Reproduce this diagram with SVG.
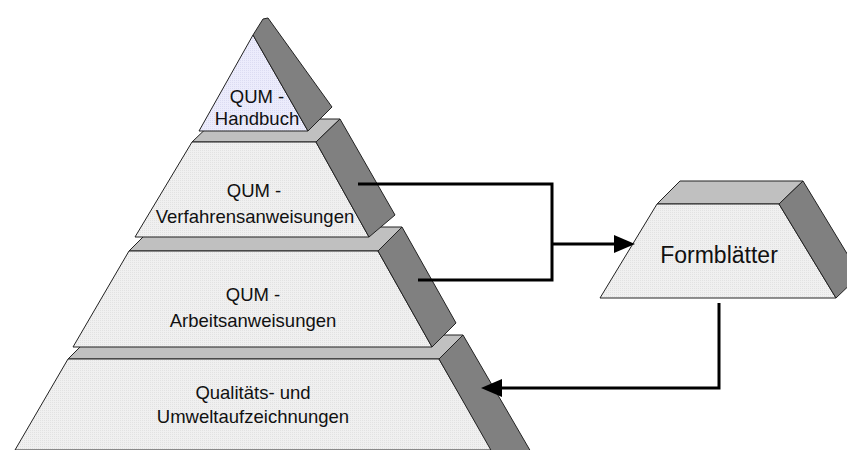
<svg xmlns="http://www.w3.org/2000/svg" width="847" height="450" viewBox="0 0 847 450">
<defs>
<pattern id="dots" width="2" height="2" patternUnits="userSpaceOnUse">
<rect width="2" height="2" fill="#f0f0f0"/>
<rect width="1" height="1" fill="#e2e2e2"/>
</pattern>
<pattern id="dotsL" width="2" height="2" patternUnits="userSpaceOnUse">
<rect width="2" height="2" fill="#ececfc"/>
<rect width="1" height="1" fill="#dcdcf2"/>
</pattern>
<marker id="arr" markerUnits="userSpaceOnUse" markerWidth="22" markerHeight="20" refX="11" refY="9" orient="auto">
<path d="M0,0 L21,9 L0,18 z" fill="#000"/>
</marker>
</defs>
<style>
.front{fill:url(#dots);stroke:#222;stroke-width:1}
.frontL{fill:url(#dotsL);stroke:#222;stroke-width:1}
.top{fill:#c0c0c0;stroke:#222;stroke-width:1}
.side{fill:#808080;stroke:#222;stroke-width:1}
.lbl{font-family:"Liberation Sans",Arial,sans-serif;font-size:18.5px;fill:#111;text-anchor:middle}
.con{fill:none;stroke:#000;stroke-width:3}
</style>

<g id="node-qualitaets">
<polygon class="top" points="68,359 92,335 463,335 439,359"/>
<polygon class="front" points="68,359 439,359 492,450 15,450"/>
<polygon class="side" points="439,359 463,335 531,452 492,452"/>
<text class="lbl" x="253" y="399">Qualitäts- und</text>
<text class="lbl" x="253" y="423">Umweltaufzeichnungen</text>
</g>

<g id="node-arbeits">
<polygon class="top" points="129,251 153,227 402,227 378,251"/>
<polygon class="front" points="129,251 378,251 432,347 73,347"/>
<polygon class="side" points="378,251 402,227 456,323 432,347"/>
<text class="lbl" x="253" y="301">QUM -</text>
<text class="lbl" x="253" y="327">Arbeitsanweisungen</text>
</g>

<g id="node-verfahren">
<polygon class="top" points="192,142 216,119 340,119 316,142"/>
<polygon class="front" points="192,142 316,142 369,237 135,237"/>
<polygon class="side" points="316,142 340,119 395,215 369,237"/>
<text class="lbl" x="254" y="197">QUM -</text>
<text class="lbl" x="255" y="223">Verfahrensanweisungen</text>
</g>

<g id="node-handbuch">
<polygon class="frontL" points="253,35 308,131 199,131"/>
<polygon class="side" points="253,35 263,19 268,18 332,107 308,131"/>
<text class="lbl" x="257" y="103">QUM -</text>
<text class="lbl" x="257" y="125">Handbuch</text>
</g>

<g id="node-formblaetter">
<polygon class="top" points="657,204 680,181 803,181 779,204"/>
<polygon class="front" points="657,204 779,204 836,298 600,298"/>
<polygon class="side" points="779,204 803,181 860,275 836,298"/>
<text class="lbl" x="719" y="263" style="font-size:23px">Formblätter</text>
</g>

<g id="connectors">
<path class="con" d="M358,184 H552 V280 H418"/>
<path class="con" d="M552,244 H625" marker-end="url(#arr)"/>
<path class="con" d="M719,303 V388 H491" marker-end="url(#arr)"/>
</g>
</svg>
